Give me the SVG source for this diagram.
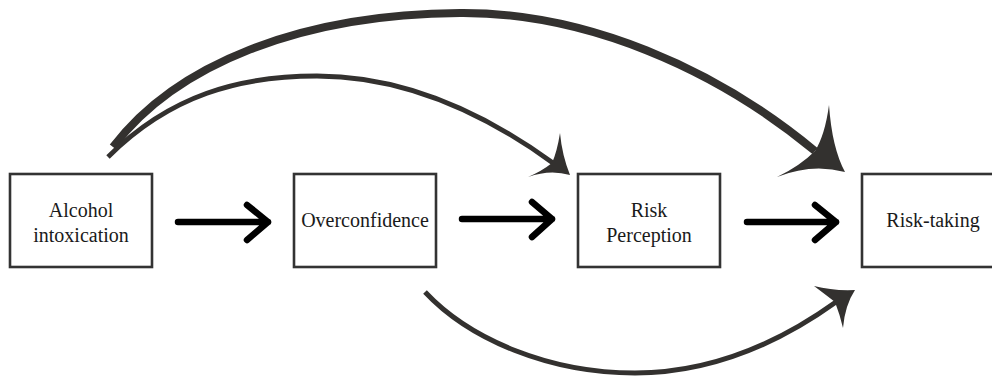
<svg xmlns="http://www.w3.org/2000/svg" width="992" height="379" viewBox="0 0 992 379">
<style>
.box{fill:#fff;stroke:#333;stroke-width:2.6}
.lbl{font-family:"Liberation Serif","Times New Roman",serif;font-size:20px;fill:#1a1a1a;text-anchor:middle}
.arr{fill:none;stroke:#000;stroke-width:6.5;stroke-linecap:round;stroke-linejoin:round}
.crv{fill:none;stroke:#33312f;stroke-linecap:butt}
.head{fill:#33312f;stroke:none}
</style>
<rect width="992" height="379" fill="#fff"/>
<g id="connectors">
  <path class="crv" stroke-width="8" d="M113,147 C175,65 300,14 460,13 C585,12 715,68 815,151"/>
  <path class="crv" stroke-width="4.8" d="M108,157 C170,95 240,76 317,76 C400,76 480,110 553,163"/>
  <path class="crv" stroke-width="5" d="M425,292 C470,340 550,373 635,373 C720,373 790,335 836,302"/>
  <path class="head" d="M845,172 Q832,148 829,105 Q825,135 815,151 Q800,166 777,177 Q812,163 845,172 Z"/>
  <path class="head" d="M570,175 Q562,155 560,133 Q557,152 552,163 Q542,171 528,177 Q550,169 570,175 Z"/>
  <path class="head" d="M855,290 Q833,291 814,286 Q826,295 835,302 Q840,315 843,328 Q845,305 855,290 Z"/>
  <path class="arr" d="M178,222 H268 M247,205 L268,222 L247,240"/>
  <path class="arr" d="M462,219 H552 M532,202 L552,219 L532,237"/>
  <path class="arr" d="M747,222 H836 M815,205 L836,222 L815,240"/>
</g>
<g id="alcohol">
  <rect class="box" x="10" y="174" width="142" height="93"/>
  <text class="lbl" x="81" y="217">Alcohol</text>
  <text class="lbl" x="81" y="242">intoxication</text>
</g>
<g id="overconfidence">
  <rect class="box" x="294" y="174" width="142" height="93"/>
  <text class="lbl" x="365" y="227">Overconfidence</text>
</g>
<g id="riskperception">
  <rect class="box" x="578" y="174" width="142" height="93"/>
  <text class="lbl" x="649" y="217">Risk</text>
  <text class="lbl" x="649" y="242">Perception</text>
</g>
<g id="risktaking">
  <rect class="box" x="862" y="174" width="145" height="93"/>
  <text class="lbl" x="933" y="227">Risk-taking</text>
</g>
</svg>
